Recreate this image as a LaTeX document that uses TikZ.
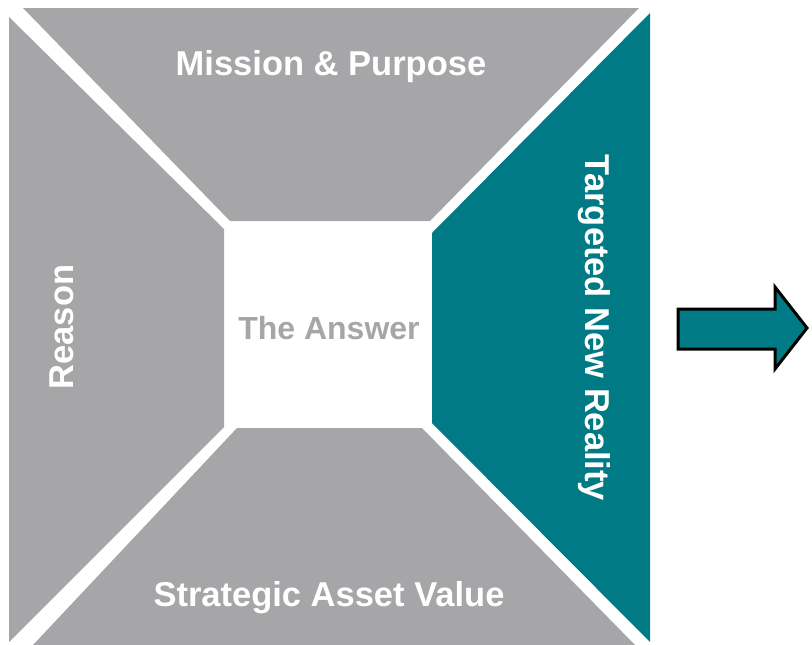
\documentclass[tikz,border=0pt]{standalone}
\usepackage{fontspec}
\setmainfont{Liberation Sans}
\definecolor{panelgray}{RGB}{166,166,168}
\definecolor{panelteal}{RGB}{0,122,133}
\tikzset{
  label/.style={text=white, font=\fontsize{34.5}{40}\selectfont\bfseries, inner sep=0pt}
}
\begin{document}
\begin{tikzpicture}[
  x=1pt, y=-1pt
]
\useasboundingbox (0,0) rectangle (812,645);

% four panels round the centre
\fill [panelgray] (23,8) -- (639,8) -- (430,221) -- (230,221) -- cycle;
\fill [panelgray] (9,17) -- (224,229) -- (224,427) -- (9,642) -- cycle;
\fill [panelgray] (33,645) -- (635,645) -- (422,428) -- (237,428) -- cycle;
\fill [panelteal] (650,13) -- (650,642) -- (432,423) -- (432,233) -- cycle;

\node [label] (mission) at (331,67) {Mission \& Purpose};
\node [label, rotate=90] (reason) at (62,327) {Reason};
\node [label] (strategic) at (329,598) {Strategic Asset Value};
\node [label, rotate=-90] (targeted) at (594,328) {Targeted New Reality};
\node [label, text=panelgray, font=\fontsize{32}{38}\selectfont\bfseries] (answer) at (329,328) {The Answer};

% arrow to the right
\draw [line width=3pt, fill=panelteal, line join=miter] (678,309) -- (775,309) -- (775,287) -- (807,328) -- (775,369) -- (775,349) -- (678,349) -- cycle;
\end{tikzpicture}
\end{document}
